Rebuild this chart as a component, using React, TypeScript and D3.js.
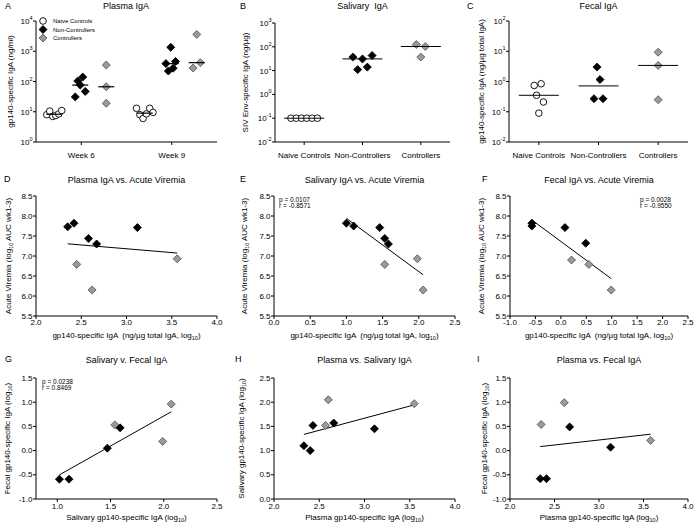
import React from "react";
import * as d3 from "d3";

const FONT = "'Liberation Sans', Arial, Helvetica, sans-serif";
const GREY = "#9a9a9a";

// top row: group names
const weeks = ["Week 6", "Week 9"];
const groupNames = ["Naive Controls", "Non-Controllers", "Controllers"];

// A: plasma gp140-specific IgA (ng/ml), one inner array per week
const plasmaNaive = [[8, 10.5, 7, 7.5, 8.5, 11], [13, 8, 6, 8.5, 13, 9.5]];
const plasmaNon = [[31, 104, 76, 140, 47], [390, 222, 1350, 275, 460]];
const plasmaCtrl = [[350, 67, 19], [280, 3600, 420]];

// B: salivary SIV Env-specific IgA (ng/ug)
const salivaryNaive = [0.1, 0.1, 0.1, 0.1, 0.1, 0.1];
const salivaryNon = [37, 11, 31, 14, 43];
const salivaryCtrl = [125, 37, 103];

// C: fecal gp140-specific IgA (ng/ug total IgA)
const fecalNaive = [0.74, 0.35, 0.09, 0.84, 0.21];
const fecalNon = [0.27, 3.0, 1.16, 0.27];
const fecalCtrl = [9.3, 3.4, 0.25];

// D: plasma (log10) vs acute viremia
const dNonX = [2.35, 2.42, 2.58, 2.67, 3.12];
const dNonY = [7.73, 7.82, 7.44, 7.3, 7.71];
const dCtrlX = [2.45, 2.62, 3.56];
const dCtrlY = [6.79, 6.15, 6.93];

// E: salivary (log10) vs acute viremia
const eNonX = [1.0, 1.1, 1.46, 1.53, 1.58];
const eNonY = [7.82, 7.75, 7.71, 7.44, 7.3];
const eCtrlX = [1.53, 1.98, 2.06];
const eCtrlY = [6.79, 6.93, 6.15];

// F: fecal (log10) vs acute viremia
const fNonX = [-0.57, -0.57, 0.08, 0.49];
const fNonY = [7.82, 7.75, 7.71, 7.32];
const fCtrlX = [0.21, 0.55, 0.99];
const fCtrlY = [6.9, 6.79, 6.15];

// G: salivary vs fecal
const gNonX = [1.02, 1.11, 1.47, 1.59];
const gNonY = [-0.59, -0.59, 0.05, 0.47];
const gCtrlX = [1.54, 1.99, 2.07];
const gCtrlY = [0.53, 0.19, 0.96];

// H: plasma vs salivary
const hNonX = [2.33, 2.4, 2.43, 2.66, 3.11];
const hNonY = [1.1, 1.0, 1.52, 1.57, 1.45];
const hCtrlX = [2.57, 2.6, 3.55];
const hCtrlY = [1.52, 2.05, 1.97];

// I: plasma vs fecal
const iNonX = [2.34, 2.41, 2.67, 3.13];
const iNonY = [-0.58, -0.58, 0.49, 0.07];
const iCtrlX = [2.35, 2.61, 3.58];
const iCtrlY = [0.54, 0.99, 0.21];

const viremiaLabel = "Acute Viremia (log_10 AUC wk1-3)";
const igaLabel = "gp140-specific IgA  (ng/µg total IgA, log_10)";

const cols = [[36, 217], [274, 455], [510, 688]];
const rows = [
  { y: [316, 196], titleY: 183, tickY: 325, labelY: 337.5 },
  { y: [499, 378], titleY: 363, tickY: 509, labelY: 519.5 },
];

const diamondPath = d3.symbol(d3.symbolSquare, 32)();

function Diamond({ x, y, grey }: any) {
  return (
    <path d={diamondPath!} transform={`translate(${x},${y}) rotate(45)`}
      fill={grey ? GREY : "#000"} stroke={grey ? "#555" : "#000"} strokeWidth={0.8} />
  );
}

function Ring({ x, y }: any) {
  return <circle cx={x} cy={y} r={3.3} fill="#fff" stroke="#000" strokeWidth={0.9} />;
}

// text with "_10" rendered as subscript
function SubText({ s, ...rest }: any) {
  const parts = s.split("_10");
  return (
    <text {...rest} style={{ whiteSpace: "pre" }}>
      {parts[0]}
      {parts.length > 1 && <tspan dy={2} fontSize={5.5}>10</tspan>}
      {parts.length > 1 && <tspan dy={-2}>{parts[1]}</tspan>}
    </text>
  );
}

function LogYAxis({ y, x, lo, hi }: any) {
  const exps = d3.range(lo, hi + 1);
  return (
    <g>
      <line x1={x} x2={x} y1={y(10 ** lo)} y2={y(10 ** hi)} stroke="#000" />
      {exps.map((e) => (
        <g key={e}>
          <line x1={x - 3} x2={x} y1={y(10 ** e)} y2={y(10 ** e)} stroke="#000" />
          <text x={x - 3.5} y={y(10 ** e) + 3} textAnchor="end" fontSize={8}>
            10<tspan dy={-4} fontSize={5.5}>{e}</tspan>
          </text>
        </g>
      ))}
    </g>
  );
}

function CatXAxis({ x, y, range, labels }: any) {
  return (
    <g>
      <line x1={range[0]} x2={range[1]} y1={y} y2={y} stroke="#000" />
      {labels.map((c: string) => (
        <g key={c}>
          <line x1={x(c)} x2={x(c)} y1={y} y2={y + 3} stroke="#000" />
          <text x={x(c)} y={y + 16} textAnchor="middle" fontSize={8}>{c}</text>
        </g>
      ))}
    </g>
  );
}

function spread(vals: number[], cx: number, step: number) {
  return vals.map((v, i) => ({ v, x: cx + (i - (vals.length - 1) / 2) * step }));
}

function PanelA() {
  const y = d3.scaleLog([1, 1e4], [142, 21]);
  const x = d3.scalePoint(weeks, cols[0]).padding(0.5);
  const offs = [-27, -1, 25];
  const steps = [[3, 3.3], [2.5, 2.4], [0, 3.6]];
  const sets = [plasmaNaive, plasmaNon, plasmaCtrl];
  return (
    <g>
      <text x={5} y={9} fontSize={9}>A</text>
      <text x={126} y={9} fontSize={9} textAnchor="middle">Plasma IgA</text>
      <text transform={`translate(12.5,81.5) rotate(-90)`} textAnchor="middle" fontSize={8}>
        gp140-specific IgA (ng/ml)
      </text>
      <LogYAxis y={y} x={36} lo={0} hi={4} />
      <CatXAxis x={x} y={142} range={cols[0]} labels={weeks} />
      {weeks.map((w, wi) =>
        sets.map((set, gi) => {
          const cx = (x(w) as number) + offs[gi];
          const pts = spread(set[wi], cx, steps[gi][wi]);
          const med = d3.median(set[wi]) as number;
          return (
            <g key={w + gi}>
              {pts.map((p, k) =>
                gi === 0 ? <Ring key={k} x={p.x} y={y(p.v)} /> : <Diamond key={k} x={p.x} y={y(p.v)} grey={gi === 2} />
              )}
              <line x1={cx - 8} x2={cx + 8} y1={y(med)} y2={y(med)} stroke="#000" strokeWidth={1.2} />
            </g>
          );
        })
      )}
      {/* legend */}
      <g fontSize={6}>
        <Ring x={43} y={21} />
        <text x={53} y={23}>{groupNames[0]}</text>
        <Diamond x={43} y={29.5} />
        <text x={53} y={31.5}>{groupNames[1]}</text>
        <Diamond x={43} y={38} grey />
        <text x={53} y={40}>{groupNames[2]}</text>
      </g>
    </g>
  );
}

function GroupPanel({ letter, letterX, title, yLabel, labelX, lo, hi, yTop, range, sets, steps, medHalf }: any) {
  const y = d3.scaleLog([10 ** lo, 10 ** hi], [142, yTop]);
  const x = d3.scalePoint(groupNames, range).padding(0.5);
  const cxTitle = (range[0] + range[1]) / 2;
  return (
    <g>
      <text x={letterX} y={9} fontSize={9}>{letter}</text>
      <text x={cxTitle} y={9} fontSize={9} textAnchor="middle" style={{ whiteSpace: "pre" }}>{title}</text>
      <text transform={`translate(${labelX},${(142 + yTop) / 2}) rotate(-90)`} textAnchor="middle" fontSize={8}>
        {yLabel}
      </text>
      <LogYAxis y={y} x={range[0]} lo={lo} hi={hi} />
      <CatXAxis x={x} y={142} range={range} labels={groupNames} />
      {sets.map((set: number[], gi: number) => {
        const cx = x(groupNames[gi]) as number;
        const pts = spread(set, cx, steps[gi]);
        const med = d3.median(set) as number;
        return (
          <g key={gi}>
            {pts.map((p, k) =>
              gi === 0 ? <Ring key={k} x={p.x} y={y(p.v)} /> : <Diamond key={k} x={p.x} y={y(p.v)} grey={gi === 2} />
            )}
            <line x1={cx - medHalf} x2={cx + medHalf} y1={y(med)} y2={y(med)} stroke="#000" strokeWidth={1} />
          </g>
        );
      })}
    </g>
  );
}

const scatterPanels = [
  { letter: "D", letterX: 4, title: "Plasma IgA vs. Acute Viremia", col: 0, row: 0, xDomain: [2, 4], xTicks: 5, yDomain: [5.5, 8.5], yTicks: 6, xLabel: igaLabel, yLabel: viremiaLabel, labelX: 10.5, nonX: dNonX, nonY: dNonY, ctrlX: dCtrlX, ctrlY: dCtrlY },
  { letter: "E", letterX: 240, title: "Salivary IgA vs. Acute Viremia", col: 1, row: 0, xDomain: [0, 2.5], xTicks: 5, yDomain: [5.5, 8.5], yTicks: 6, xLabel: igaLabel, yLabel: viremiaLabel, labelX: 247, nonX: eNonX, nonY: eNonY, ctrlX: eCtrlX, ctrlY: eCtrlY, stats: ["p = 0.0107", "r = -0.8571"], statsX: 279 },
  { letter: "F", letterX: 482, title: "Fecal IgA vs. Acute Viremia", col: 2, row: 0, xDomain: [-1, 2.5], xTicks: 7, yDomain: [5.5, 8.5], yTicks: 6, xLabel: igaLabel, yLabel: viremiaLabel, labelX: 484, nonX: fNonX, nonY: fNonY, ctrlX: fCtrlX, ctrlY: fCtrlY, stats: ["p = 0.0028", "r = -0.9550"], statsX: 640 },
  { letter: "G", letterX: 5, title: "Salivary v. Fecal IgA", col: 0, row: 1, xDomain: [0.8, 2.5], xTicks: 4, yDomain: [-1, 1.5], yTicks: 5, xLabel: "Salivary gp140-specific IgA (log_10)", yLabel: "Fecal gp140-specific IgA (log_10)", labelX: 9.5, nonX: gNonX, nonY: gNonY, ctrlX: gCtrlX, ctrlY: gCtrlY, stats: ["p = 0.0238", "r = 0.8469"], statsX: 42 },
  { letter: "H", letterX: 235, title: "Plasma vs. Salivary IgA", col: 1, row: 1, xDomain: [2, 4], xTicks: 5, yDomain: [0, 2.5], yTicks: 5, xLabel: "Plasma gp140-specific IgA (log_10)", yLabel: "Salivary gp140-specific IgA (log_10)", labelX: 244, nonX: hNonX, nonY: hNonY, ctrlX: hCtrlX, ctrlY: hCtrlY },
  { letter: "I", letterX: 477, title: "Plasma vs. Fecal IgA", col: 2, row: 1, xDomain: [2, 4], xTicks: 5, yDomain: [-1, 1.5], yTicks: 5, xLabel: "Plasma gp140-specific IgA (log_10)", yLabel: "Fecal gp140-specific IgA (log_10)", labelX: 487, nonX: iNonX, nonY: iNonY, ctrlX: iCtrlX, ctrlY: iCtrlY },
];

function ScatterPanel({ p }: any) {
  const r = rows[p.row];
  const range = cols[p.col];
  const x = d3.scaleLinear(p.xDomain, range);
  const y = d3.scaleLinear(p.yDomain, r.y);
  const allX = [...p.nonX, ...p.ctrlX];
  const allY = [...p.nonY, ...p.ctrlY];
  const mx = d3.mean(allX) as number;
  const my = d3.mean(allY) as number;
  const slope = d3.sum(allX, (v: number, i: number) => (v - mx) * (allY[i] - my)) / d3.sum(allX, (v: number) => (v - mx) ** 2);
  const [x0, x1] = d3.extent(allX) as [number, number];
  const fit = d3.line()([
    [x(x0), y(my + slope * (x0 - mx))],
    [x(x1), y(my + slope * (x1 - mx))],
  ]);
  const cx = (range[0] + range[1]) / 2;
  const cy = (r.y[0] + r.y[1]) / 2;
  return (
    <g>
      <text x={p.letterX} y={r.titleY - 1} fontSize={9}>{p.letter}</text>
      <text x={cx} y={r.titleY} fontSize={9} textAnchor="middle">{p.title}</text>
      <SubText s={p.yLabel} transform={`translate(${p.labelX},${cy}) rotate(-90)`} textAnchor="middle" fontSize={8} />
      <SubText s={p.xLabel} x={cx} y={r.labelY} textAnchor="middle" fontSize={8} />
      {/* axes */}
      <line x1={range[0]} x2={range[0]} y1={r.y[0]} y2={r.y[1]} stroke="#000" />
      <line x1={range[0]} x2={range[1]} y1={r.y[0]} y2={r.y[0]} stroke="#000" />
      {y.ticks(p.yTicks).map((t: number) => (
        <g key={"y" + t}>
          <line x1={range[0] - 3} x2={range[0]} y1={y(t)} y2={y(t)} stroke="#000" />
          <text x={range[0] - 3.5} y={y(t) + 2.5} textAnchor="end" fontSize={8}>{t.toFixed(1)}</text>
        </g>
      ))}
      {x.ticks(p.xTicks).map((t: number) => (
        <g key={"x" + t}>
          <line x1={x(t)} x2={x(t)} y1={r.y[0]} y2={r.y[0] + 3} stroke="#000" />
          <text x={x(t)} y={r.tickY} textAnchor="middle" fontSize={8}>{t.toFixed(1)}</text>
        </g>
      ))}
      <path d={fit!} stroke="#000" strokeWidth={1} fill="none" />
      {p.ctrlX.map((v: number, i: number) => <Diamond key={"c" + i} x={x(v)} y={y(p.ctrlY[i])} grey />)}
      {p.nonX.map((v: number, i: number) => <Diamond key={"n" + i} x={x(v)} y={y(p.nonY[i])} />)}
      {p.stats && (
        <g fontSize={6.5}>
          <text x={p.statsX} y={r.y[1] + 5.5}>{p.stats[0]}</text>
          <text x={p.statsX} y={r.y[1] + 11.5}>{p.stats[1]}</text>
        </g>
      )}
    </g>
  );
}

export default function App() {
  return (
    <svg width={696} height={525} fontFamily={FONT}
      style={{ position: "absolute", left: 0, top: 0, background: "#fff" }}>
      <rect width={696} height={525} fill="#fff" />
      <PanelA />
      <GroupPanel letter="B" letterX={240} title="Salivary  IgA" yLabel="SIV Env-specific IgA (ng/µg)" labelX={248}
        lo={-2} hi={3} yTop={23} range={[275, 450]} sets={[salivaryNaive, salivaryNon, salivaryCtrl]}
        steps={[5.3, 4.8, 4.5]} medHalf={20} />
      <GroupPanel letter="C" letterX={467} title="Fecal IgA" yLabel="gp140-specific IgA (ng/µg total IgA)" labelX={484}
        lo={-2} hi={2} yTop={21} range={[509, 688]} sets={[fecalNaive, fecalNon, fecalCtrl]}
        steps={[2.3, 3, 0]} medHalf={20} />
      {scatterPanels.map((p) => <ScatterPanel key={p.letter} p={p} />)}
    </svg>
  );
}
